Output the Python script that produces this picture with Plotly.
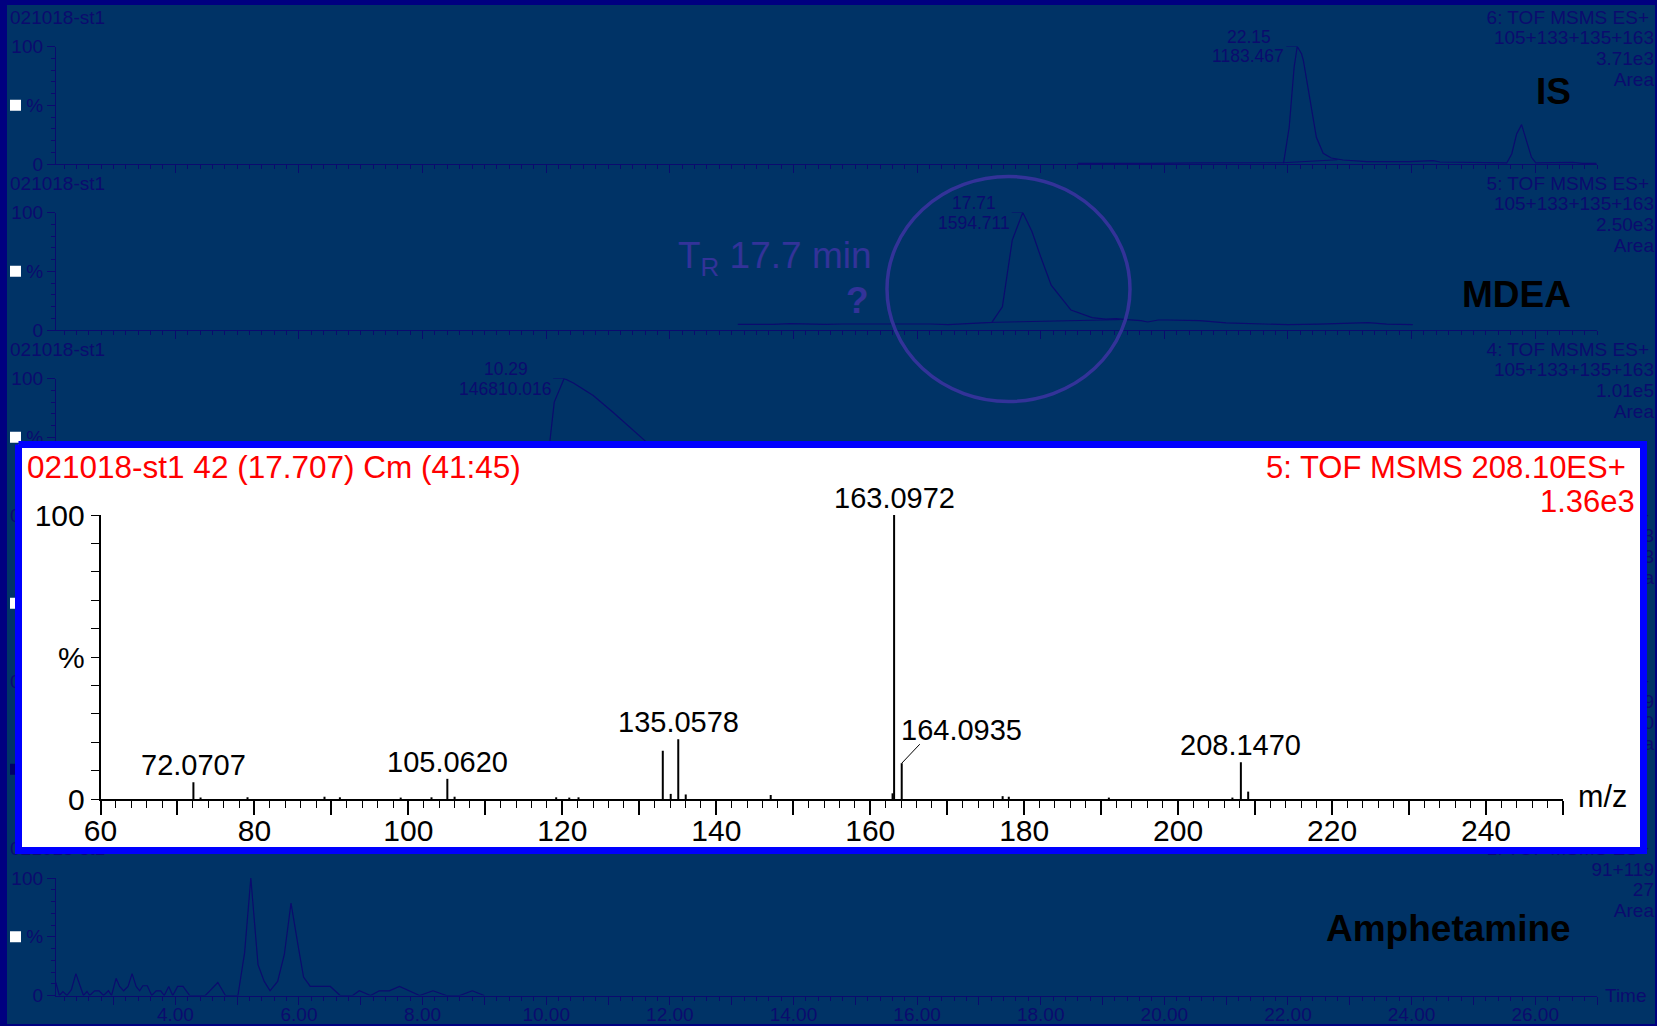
import plotly.graph_objects as go

# ---------------- page / style constants ----------------
W, H = 1657, 1026
BG = '#003366'
NAVY = '#0b0b6e'
FRAME = '#000080'
CIRCLE = '#333399'
FONT = 'Arial, "Liberation Sans", sans-serif'

# ---------------- data ----------------
# time axis (min)
T_RANGE = [2.069, 27.0]
time_major = list(range(3, 28))
time_labels = [f"{t:.2f}" if t % 2 == 0 else "" for t in time_major]

# panel header texts (top to bottom)
panel_file = ['021018-st1'] * 6
panel_func = ['6: TOF MSMS ES+', '5: TOF MSMS ES+', '4: TOF MSMS ES+',
              '3: TOF MSMS ES+', '2: TOF MSMS ES+', '1: TOF MSMS ES+']
panel_mass = ['105+133+135+163', '105+133+135+163', '105+133+135+163',
              '105+133+135+163', '91+119+149', '91+119']
panel_int = ['3.71e3', '2.50e3', '1.01e5', '1.13e3', '270', '27']
panel_kind = ['Area'] * 6
panel_square = ['white', 'white', 'white', 'white', '#000066', 'white']
compound_names = ['IS', 'MDEA', 'Amphetamine']

# IS chromatogram (panel 1)
is_time = [18.60, 19.20, 19.77, 20.57, 21.38, 21.82, 21.93, 22.02, 22.10, 22.15,
           22.22, 22.25, 22.33, 22.41, 22.46, 22.57, 22.70, 22.89, 23.27, 23.97,
           24.35, 24.46, 25.16, 25.54, 25.62, 25.70, 25.78, 25.86, 25.94, 26.01,
           26.61, 26.77, 26.99]
is_pct = [0.6, 0.9, 0.6, 0.9, 1.1, 0.9, 1.1, 31.2, 82.4, 100,
          93.8, 88.0, 62.5, 39.8, 22.7, 9.1, 5.1, 3.4, 2.0, 2.0,
          2.8, 1.7, 0.9, 0.9, 8.5, 25.6, 33.5, 19.9, 5.7, 0.9,
          1.4, 0.6, 0.6]
is_base_time = [21.93, 22.80]
is_base_pct = [1.1, 3.6]

# MDEA chromatogram (panel 2)
mdea_time = [13.10, 13.38, 13.67, 13.95, 14.23, 14.51, 14.80, 15.08, 15.36, 15.65,
             15.93, 16.22, 16.50, 16.78, 17.07, 17.21, 17.38, 17.47, 17.54, 17.71,
             17.86, 18.00, 18.17, 18.49, 18.83, 19.05, 19.22, 19.39, 19.62, 19.73,
             19.90, 20.05, 20.57, 21.00, 21.50, 22.00, 22.50, 23.00, 23.30, 23.60,
             24.02]
mdea_pct = [4.8, 4.5, 4.8, 5.4, 4.8, 4.8, 5.1, 5.1, 5.4, 4.8,
            5.4, 5.1, 4.5, 5.4, 5.7, 6.5, 19.8, 51.0, 76.5, 100,
            83.6, 62.3, 38.2, 17.0, 10.5, 9.3, 9.6, 8.8, 7.9, 6.8,
            8.5, 8.5, 7.9, 6.0, 5.0, 4.5, 5.0, 5.5, 6.2, 5.0,
            4.5]
mdea_base_time = [17.21, 19.28]
mdea_base_pct = [6.5, 8.8]

# panel 3 chromatogram (mostly hidden behind the spectrum)
p3_time = [8.50, 9.50, 9.80, 9.95, 10.06, 10.13, 10.29, 10.44, 10.76, 11.08,
           11.60, 12.00, 12.50, 13.00, 14.00, 15.00]
p3_pct = [0.5, 1.0, 5.0, 20.0, 46.9, 79.9, 100, 96.2, 85.6, 71.3,
          46.9, 32.0, 18.0, 10.0, 4.0, 2.0]

# Amphetamine chromatogram (panel 6)
amph_time = [2.066, 2.123, 2.181, 2.246, 2.318, 2.391, 2.463, 2.513, 2.571, 2.614,
             2.694, 2.766, 2.838, 2.918, 2.968, 3.041, 3.098, 3.163, 3.235, 3.300,
             3.365, 3.423, 3.474, 3.546, 3.618, 3.690, 3.763, 3.820, 3.893, 3.958,
             4.037, 4.124, 4.232, 4.485, 4.557, 4.687, 4.810, 5.012, 5.120, 5.221,
             5.337, 5.438, 5.532, 5.655, 5.763, 5.871, 5.987, 6.074, 6.182, 6.507,
             6.666, 6.868, 6.976, 7.157, 7.301, 7.460, 7.626, 7.951, 8.168, 8.384,
             8.601, 8.803, 8.998]
amph_pct = [11.1, 0.0, 3.4, 0.0, 4.9, 18.6, 7.7, 0.0, 3.4, 0.0,
            4.0, 4.0, 0.0, 4.0, 0.0, 14.6, 7.7, 4.0, 7.7, 18.6,
            7.7, 4.0, 8.3, 8.3, 0.0, 4.0, 4.0, 0.0, 7.7, 0.0,
            7.7, 7.7, 0.0, 0.0, 4.0, 11.1, 0.0, 0.0, 36.3, 100,
            26.3, 12.0, 4.0, 12.0, 34.9, 78.6, 42.0, 15.7, 7.7, 7.7,
            0.0, 0.0, 4.0, 0.0, 4.0, 4.0, 7.7, 0.0, 4.0, 0.0,
            0.0, 4.0, 0.0]

# labelled chromatogram peaks (panels 1-3)
peak_times = [22.15, 17.71, 10.29]
peak_areas = ['1183.467', '1594.711', '146810.016']

# MS/MS spectrum
spec_mz = [72.07, 73.0, 79.1, 89.1, 91.1, 99.0, 103.0, 105.06, 106.0, 119.2,
           120.9, 122.1, 133.05, 134.08, 135.06, 136.03, 147.07, 162.9, 163.10, 164.09,
           177.2, 178.0, 191.0, 207.05, 208.15, 209.1]
spec_int = [5.9, 0.5, 0.6, 0.8, 0.6, 0.5, 0.6, 7.1, 0.8, 0.6,
            0.5, 0.6, 17.0, 1.8, 21.0, 1.6, 1.4, 2.0, 100, 12.6,
            1.0, 0.8, 0.5, 0.5, 12.9, 2.6]
spec_labels = [72.0707, 105.0620, 135.0578, 163.0972, 208.1470]
spec_leader_label = 164.0935
spec_title_left = '021018-st1 42 (17.707) Cm (41:45)'
spec_title_right = '5: TOF MSMS 208.10ES+'
spec_scale = '1.36e3'
spec_xticks = list(range(60, 251, 10))
spec_xlabels = [str(v) if v % 20 == 0 else '' for v in spec_xticks]

# ---------------- layout geometry (pixels) ----------------
X_LEFT, X_RIGHT = 56, 1597
PANEL_TOPS = [46.5, 212.5, 378.5, 544.5, 710.5, 878.0]
PANEL_H = 117.5
BOX = dict(x0=15, x1=1647, y0=441, y1=854, bw=7)
SPEC = dict(x0=100.5, x1=1563, ytop=515, ybot=799)

px_per_min = (X_RIGHT - X_LEFT) / (T_RANGE[1] - T_RANGE[0])
px_per_mz = (SPEC['x1'] - SPEC['x0']) / 190.0
px_per_pct = (SPEC['ybot'] - SPEC['ytop']) / 100.0


def dom_y(top, bottom):
    return [1 - bottom / H, 1 - top / H]


layout = dict(
    template='none',
    width=W, height=H, autosize=False,
    margin=dict(l=0, r=0, t=0, b=0, pad=0),
    paper_bgcolor=BG, plot_bgcolor='rgba(0,0,0,0)',
    showlegend=False, font=dict(family=FONT, color=NAVY),
    xaxis=dict(domain=[0, 1], range=[0, W], visible=False, fixedrange=True, automargin=False),
    yaxis=dict(domain=[0, 1], range=[H, 0], visible=False, fixedrange=True, automargin=False),
)

for i, top in enumerate(PANEL_TOPS):
    n = i + 2
    layout[f'xaxis{n}'] = dict(
        domain=[X_LEFT / W, X_RIGHT / W], range=T_RANGE, anchor=f'y{n}', automargin=False,
        showline=True, linecolor=NAVY, linewidth=1.3, showgrid=False, zeroline=False,
        ticks='outside', ticklen=8, tickwidth=1.2, tickcolor=NAVY,
        tickmode='array', tickvals=time_major, ticktext=time_labels,
        showticklabels=(i == 5), tickfont=dict(family=FONT, size=19, color=NAVY),
        ticklabelstandoff=-6,
        minor=dict(tickmode='linear', tick0=0, dtick=0.2, ticks='outside', ticklen=4,
                   tickwidth=1, tickcolor=NAVY, showgrid=False),
        fixedrange=True)
    layout[f'yaxis{n}'] = dict(
        domain=dom_y(top, top + PANEL_H), range=[0, 100], anchor=f'x{n}', automargin=False,
        showline=True, linecolor=NAVY, linewidth=1.3, showgrid=False, zeroline=False,
        ticks='outside', ticklen=8, tickwidth=1.2, tickcolor=NAVY,
        tickmode='array', tickvals=[0, 50, 100], ticktext=['0', '%', '100'],
        tickfont=dict(family=FONT, size=19, color=NAVY),
        minor=dict(tickmode='linear', tick0=0, dtick=10, ticks='outside', ticklen=4,
                   tickwidth=1, tickcolor=NAVY, showgrid=False),
        fixedrange=True)

# white box subplot (pixel units)
layout['xaxis8'] = dict(domain=[BOX['x0'] / W, BOX['x1'] / W], range=[BOX['x0'], BOX['x1']],
                        anchor='y8', visible=False, fixedrange=True, automargin=False)
layout['yaxis8'] = dict(domain=dom_y(BOX['y0'], BOX['y1']), range=[BOX['y1'], BOX['y0']],
                        anchor='x8', visible=False, fixedrange=True, automargin=False)

# spectrum subplot
layout['xaxis9'] = dict(
    domain=[SPEC['x0'] / W, SPEC['x1'] / W], range=[60, 250], anchor='y9', automargin=False,
    showline=True, linecolor='black', linewidth=1.6, showgrid=False, zeroline=False,
    ticks='outside', ticklen=14, tickwidth=1.5, tickcolor='black',
    tickmode='array', tickvals=spec_xticks, ticktext=spec_xlabels,
    tickfont=dict(family=FONT, size=30, color='black'),
    ticklabelstandoff=-10,
    minor=dict(tickmode='linear', tick0=0, dtick=2, ticks='outside', ticklen=7,
               tickwidth=1.2, tickcolor='black', showgrid=False),
    fixedrange=True)
layout['yaxis9'] = dict(
    domain=dom_y(SPEC['ytop'], SPEC['ybot']), range=[0, 100], anchor='x9', automargin=False,
    showline=True, linecolor='black', linewidth=1.6, showgrid=False, zeroline=False,
    ticks='outside', ticklen=8, tickwidth=1.2, tickcolor='black',
    tickmode='array', tickvals=[0, 50, 100], ticktext=['0', '%', '100'],
    tickfont=dict(family=FONT, size=30, color='black'),
    minor=dict(tickmode='linear', tick0=0, dtick=10, ticks='outside', ticklen=8,
               tickwidth=1.2, tickcolor='black', showgrid=False),
    fixedrange=True)

traces = []


def text_tr(xs, ys, texts, pos, size, color):
    return go.Scatter(x=xs, y=ys, text=texts, mode='text', textposition=pos,
                      textfont=dict(family=FONT, size=size, color=color),
                      hoverinfo='skip', xaxis='x', yaxis='y', cliponaxis=False)


# ---- background-layer texts & squares (covered by the spectrum box where they overlap) ----
lab_x, lab_y, lab_t = [], [], []
r1_x, r1_y, r1_t = [], [], []
r_x, r_y, r_t = [], [], []
sq_x, sq_y, sq_c = [], [], []
for i, top in enumerate(PANEL_TOPS):
    lab_x.append(10); lab_y.append(top - 27.5); lab_t.append(panel_file[i])
    r1_x.append(1649); r1_y.append(top - 27.5); r1_t.append(panel_func[i])
    for off, txt in zip([-7, 13.5, 34.5], [panel_mass[i], panel_int[i], panel_kind[i]]):
        r_x.append(1654); r_y.append(top + off); r_t.append(txt)
    sq_x.append(15.5); sq_y.append(top + PANEL_H / 2); sq_c.append(panel_square[i])

traces.append(text_tr(lab_x, lab_y, lab_t, 'middle right', 19, NAVY))
traces.append(text_tr(r1_x, r1_y, r1_t, 'middle left', 19, NAVY))
traces.append(text_tr(r_x, r_y, r_t, 'middle left', 19, NAVY))
traces.append(go.Scatter(x=sq_x, y=sq_y, mode='markers', xaxis='x', yaxis='y',
                         marker=dict(symbol='square', size=11, color=sq_c, line=dict(width=0)),
                         hoverinfo='skip', cliponaxis=False))

# ---- chromatogram traces ----
line_style = dict(color=NAVY, width=1.2)
chrom = [(2, is_time, is_pct), (3, mdea_time, mdea_pct), (4, p3_time, p3_pct), (7, amph_time, amph_pct)]
for n, tx, ty in chrom:
    traces.append(go.Scatter(x=tx, y=ty, mode='lines', line=line_style,
                             xaxis=f'x{n}', yaxis=f'y{n}', hoverinfo='skip'))
for n, bx, by in [(2, is_base_time, is_base_pct), (3, mdea_base_time, mdea_base_pct)]:
    traces.append(go.Scatter(x=bx, y=by, mode='lines', line=dict(color=NAVY, width=1),
                             xaxis=f'x{n}', yaxis=f'y{n}', hoverinfo='skip'))
# peak-label leader ticks
LEAD = 11
for k, t in enumerate(peak_times):
    n = k + 2
    traces.append(go.Scatter(x=[t - LEAD / px_per_min, t], y=[100, 100], mode='lines',
                             line=dict(color=NAVY, width=1.2), xaxis=f'x{n}', yaxis=f'y{n}',
                             hoverinfo='skip', cliponaxis=False))

# ---- white spectrum box ----
inset = BOX['bw'] / 2
bx0, bx1 = BOX['x0'] + inset, BOX['x1'] - inset
by0, by1 = BOX['y0'] + inset, BOX['y1'] - inset
traces.append(go.Scatter(x=[bx0, bx1, bx1, bx0, bx0], y=[by0, by0, by1, by1, by0],
                         mode='lines', fill='toself', fillcolor='white',
                         line=dict(color='#0000ff', width=BOX['bw']),
                         xaxis='x8', yaxis='y8', hoverinfo='skip'))

# ---- spectrum sticks ----
sx, sy = [], []
for m, v in zip(spec_mz, spec_int):
    sx += [m, m, None]
    sy += [0, v, None]
traces.append(go.Scatter(x=sx, y=sy, mode='lines', line=dict(color='black', width=2),
                         xaxis='x9', yaxis='y9', hoverinfo='skip'))
# leader for 164.0935
lead_h = spec_int[spec_mz.index(164.09)]
traces.append(go.Scatter(x=[spec_leader_label, spec_leader_label + 18 / px_per_mz],
                         y=[lead_h, lead_h + 19 / px_per_pct], mode='lines',
                         line=dict(color='black', width=1), xaxis='x9', yaxis='y9',
                         hoverinfo='skip', cliponaxis=False))

fig = go.Figure(data=traces, layout=layout)

# ---------------- annotations ----------------
ann = []


def A(**kw):
    d = dict(showarrow=False, font=dict(family=FONT, size=19, color=NAVY))
    d.update(kw)
    ann.append(d)


# chromatogram peak labels
PK = 17.5
for k, (t, area) in enumerate(zip(peak_times, peak_areas)):
    n = k + 2
    w2 = PK * (0.556 * sum(c.isdigit() for c in area) + 0.278 * area.count('.'))
    A(x=t, y=100, xref=f'x{n}', yref=f'y{n}', text=f'{t:.2f}', xanchor='center',
      yanchor='middle', xshift=-(LEAD + 1 + w2 / 2), yshift=9.5,
      font=dict(family=FONT, size=PK, color=NAVY))
    A(x=t, y=100, xref=f'x{n}', yref=f'y{n}', text=area, xanchor='right',
      yanchor='middle', xshift=-LEAD, yshift=-10,
      font=dict(family=FONT, size=PK, color=NAVY))

# compound names
for name, yc in zip(compound_names, [91, 294, 928]):
    A(x=1573, y=yc, xref='x', yref='y', text=f'<b>{name}</b>', xanchor='right',
      yanchor='middle', font=dict(family=FONT, size=37, color='black'))

# retention time note
A(x=676, y=258, xref='x', yref='y', text='T<sub>R</sub> 17.7 min', xanchor='left',
  yanchor='middle', font=dict(family=FONT, size=37, color=CIRCLE))
A(x=857, y=300, xref='x', yref='y', text='<b>?</b>', xanchor='center',
  yanchor='middle', font=dict(family=FONT, size=37, color=CIRCLE))

# time axis title
A(x=1649, y=995.5, xref='x', yref='y', text='Time', xanchor='right', yanchor='middle',
  font=dict(family=FONT, size=19, color=NAVY))

# spectrum header
A(x=25, y=467, xref='x', yref='y', text=spec_title_left, xanchor='left', yanchor='middle',
  font=dict(family=FONT, size=31.5, color='red'))
A(x=1628, y=467, xref='x', yref='y', text=spec_title_right, xanchor='right', yanchor='middle',
  font=dict(family=FONT, size=31, color='red'))
A(x=1637, y=501, xref='x', yref='y', text=spec_scale, xanchor='right', yanchor='middle',
  font=dict(family=FONT, size=31, color='red'))
A(x=1602, y=796, xref='x', yref='y', text='m/z', xanchor='center', yanchor='middle',
  font=dict(family=FONT, size=30.5, color='black'))

# spectrum peak labels
for m in spec_labels:
    j = min(range(len(spec_mz)), key=lambda q: abs(spec_mz[q] - m))
    A(x=m, y=spec_int[j], xref='x9', yref='y9', text=f'{m:.4f}', xanchor='center',
      yanchor='middle', yshift=17, font=dict(family=FONT, size=29, color='black'))
A(x=spec_leader_label, y=lead_h, xref='x9', yref='y9', text=f'{spec_leader_label:.4f}',
  xanchor='center', yanchor='middle', xshift=60, yshift=33,
  font=dict(family=FONT, size=29, color='black'))

# ---------------- shapes ----------------
shapes = [
    dict(type='rect', xref='x', yref='y', x0=0, x1=7, y0=0, y1=H, fillcolor=FRAME,
         line=dict(width=0), layer='below'),
    dict(type='rect', xref='x', yref='y', x0=0, x1=W, y0=0, y1=5, fillcolor=FRAME,
         line=dict(width=0), layer='below'),
    dict(type='rect', xref='x', yref='y', x0=W - 2, x1=W, y0=0, y1=H, fillcolor=FRAME,
         line=dict(width=0), layer='below'),
    dict(type='rect', xref='x', yref='y', x0=0, x1=W, y0=H - 2, y1=H, fillcolor=FRAME,
         line=dict(width=0), layer='below'),
    dict(type='circle', xref='x', yref='y', x0=887, x1=1130, y0=176.5, y1=401.5,
         line=dict(color=CIRCLE, width=3.5), fillcolor='rgba(0,0,0,0)', layer='above'),
]

fig.update_layout(annotations=ann, shapes=shapes)

fig.write_html("out.html", config={'displayModeBar': False},
               post_script="document.body.style.margin='0';document.body.style.overflow='hidden';")
